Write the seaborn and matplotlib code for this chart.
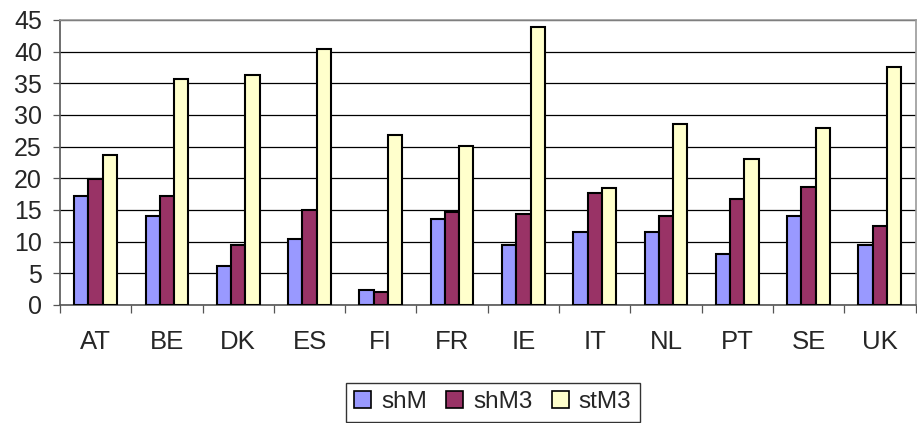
import numpy as np
import pandas as pd
import matplotlib
matplotlib.use("Agg")
import matplotlib.pyplot as plt
import seaborn as sns

countries = ['AT', 'BE', 'DK', 'ES', 'FI', 'FR', 'IE', 'IT', 'NL', 'PT', 'SE', 'UK']
shM = [17.2, 14.1, 6.1, 10.4, 2.3, 13.5, 9.5, 11.5, 11.5, 8.0, 14.1, 9.5]
shM3 = [19.9, 17.2, 9.5, 15.0, 2.0, 14.6, 14.4, 17.6, 14.1, 16.7, 18.7, 12.4]
stM3 = [23.6, 35.7, 36.3, 40.4, 26.8, 25.1, 43.8, 18.4, 28.5, 23.1, 28.0, 37.5]

series = ['shM', 'shM3', 'stM3']
colors = ['#9999FF', '#993366', '#FFFFCC']

df = pd.DataFrame({'country': countries, 'shM': shM, 'shM3': shM3, 'stM3': stM3})
df = df.melt(id_vars='country', var_name='series', value_name='value')

sns.set_style('white')
plt.rcParams['font.family'] = ['Liberation Sans', 'DejaVu Sans']

fig = plt.figure(figsize=(9.17, 4.23), dpi=100)
ax = fig.add_axes([0.0654, 0.279, 0.933, 0.674])

sns.barplot(data=df, x='country', y='value', hue='series', hue_order=series,
            order=countries, palette=colors, width=0.6, gap=0,
            edgecolor='black', linewidth=1.5, saturation=1, ax=ax, zorder=3)

ax.set_ylim(0, 45)
ax.set_xlim(-0.5, 11.5)
ax.set_yticks(range(0, 46, 5))
ax.yaxis.grid(True, color='black', linewidth=0.9, zorder=0)
ax.set_axisbelow(True)
ax.set_xlabel('')
ax.set_ylabel('')

ax.set_xticks(np.arange(-0.5, 12, 1), minor=True)
ax.tick_params(axis='x', which='major', length=0, pad=18, labelsize=18.5)
ax.tick_params(axis='x', which='minor', length=5.5, width=0.9, color='#555555', bottom=True)
ax.tick_params(axis='y', length=5, width=0.9, color='#555555', labelsize=18, pad=8, left=True)

for side in ['left', 'bottom']:
    ax.spines[side].set_color('#555555')
    ax.spines[side].set_linewidth(1.2)
for side in ['top', 'right']:
    ax.spines[side].set_color('#999999')
    ax.spines[side].set_linewidth(1.2)

ax.legend(loc='upper center', bbox_to_anchor=(0.506, -0.272), ncol=3, fontsize=17.5,
          frameon=True, fancybox=False, edgecolor='black', handlelength=0.7,
          handleheight=0.7, handletextpad=0.4, columnspacing=0.8,
          borderpad=0.35, borderaxespad=0, title=None)
leg = ax.get_legend()
leg.get_frame().set_linewidth(1.0)
for h in leg.legend_handles:
    h.set_edgecolor('black')
    h.set_linewidth(1.2)

plt.savefig('out.png', dpi=100)
